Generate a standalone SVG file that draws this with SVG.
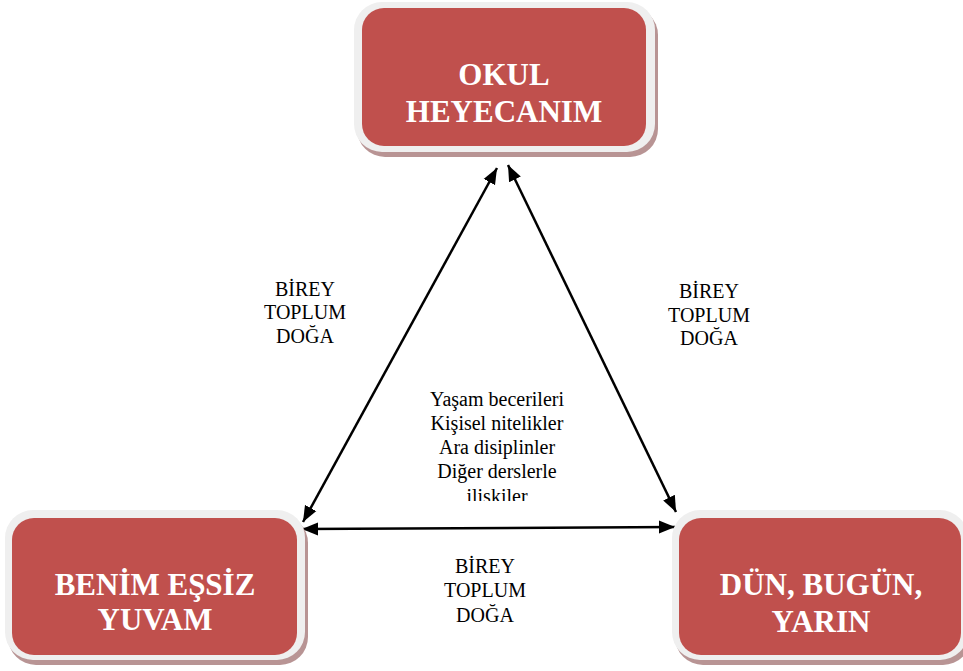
<svg xmlns="http://www.w3.org/2000/svg" width="963" height="671" viewBox="0 0 963 671">
<style>
.shadow{fill:#B89494}
.outer{fill:#EFEFEF}
.inner{fill:#C0504D}
.title{font-family:"Liberation Serif","Times New Roman",serif;font-weight:bold;font-size:31px;fill:#FFFFFF;text-anchor:middle}
.lbl{font-family:"Liberation Serif","Times New Roman",serif;font-size:20px;fill:#000000;text-anchor:middle}
.conn{stroke:#000000;stroke-width:2.5;fill:none;marker-start:url(#ah);marker-end:url(#ah)}
</style>
<defs>
<marker id="ah" markerUnits="userSpaceOnUse" markerWidth="17" markerHeight="14" refX="16" refY="6.5" orient="auto-start-reverse" viewBox="0 0 17 13">
<path d="M0,0 L16,6.5 L0,13 z" fill="#000000"/>
</marker>
<clipPath id="cclip"><rect x="380" y="380" width="240" height="121"/></clipPath>
</defs>
<rect width="963" height="671" fill="#FFFFFF"/>

<g id="connectors">
<line class="conn" x1="303" y1="522" x2="497" y2="168"/>
<line class="conn" x1="508" y1="165" x2="676" y2="512"/>
<line class="conn" x1="302" y1="529" x2="675" y2="527"/>
</g>

<g id="node-okul">
<rect class="shadow" x="357" y="7" width="301" height="150" rx="28"/>
<rect class="outer" x="354" y="2" width="301" height="150" rx="28"/>
<rect class="inner" x="362" y="8" width="284" height="138" rx="22"/>
<text class="title" x="504" y="85">OKUL</text>
<text class="title" x="504" y="122">HEYECANIM</text>
</g>

<g id="node-yuvam">
<rect class="shadow" x="8" y="515" width="300" height="150" rx="28"/>
<rect class="outer" x="5" y="510" width="300" height="150" rx="28"/>
<rect class="inner" x="12" y="518" width="285" height="137" rx="22"/>
<text class="title" x="155" y="595">BENİM EŞSİZ</text>
<text class="title" x="155" y="630">YUVAM</text>
</g>

<g id="node-dun">
<rect class="shadow" x="675" y="515" width="296" height="150" rx="28"/>
<rect class="outer" x="672" y="510" width="296" height="150" rx="28"/>
<rect class="inner" x="679" y="518" width="282" height="137" rx="22"/>
<text class="title" x="821" y="595">DÜN, BUGÜN,</text>
<text class="title" x="821" y="632">YARIN</text>
</g>

<g id="label-left">
<text class="lbl" x="305" y="296">BİREY</text>
<text class="lbl" x="305" y="319">TOPLUM</text>
<text class="lbl" x="305" y="343">DOĞA</text>
</g>
<g id="label-right">
<text class="lbl" x="709" y="298">BİREY</text>
<text class="lbl" x="709" y="322">TOPLUM</text>
<text class="lbl" x="709" y="345">DOĞA</text>
</g>
<g id="label-bottom">
<text class="lbl" x="485" y="573">BİREY</text>
<text class="lbl" x="485" y="597">TOPLUM</text>
<text class="lbl" x="485" y="622">DOĞA</text>
</g>
<g id="label-center" clip-path="url(#cclip)">
<text class="lbl" x="497" y="406">Yaşam becerileri</text>
<text class="lbl" x="497" y="430">Kişisel nitelikler</text>
<text class="lbl" x="497" y="454">Ara disiplinler</text>
<text class="lbl" x="497" y="478">Diğer derslerle</text>
<text class="lbl" x="497" y="503">ilişkiler</text>
</g>
</svg>
